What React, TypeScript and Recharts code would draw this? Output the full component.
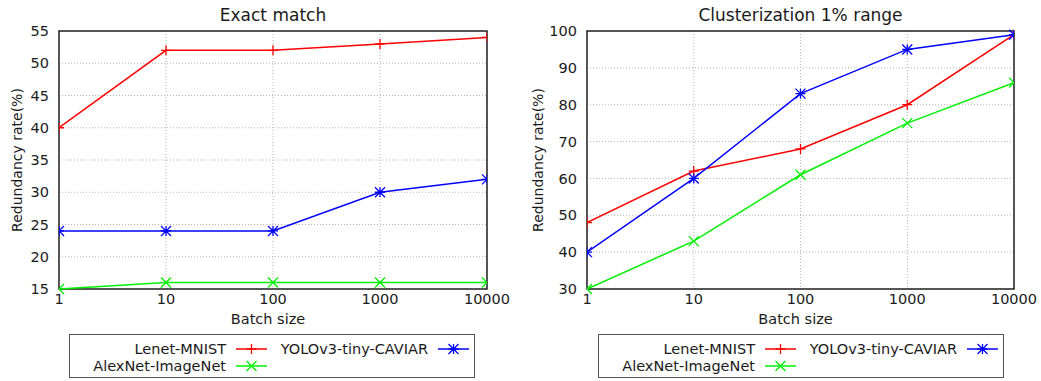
import { LineChart, Line, XAxis, YAxis, CartesianGrid, Legend, ReferenceArea } from "recharts";

// batch sizes (log x axis)
const batchSizes = [1, 10, 100, 1000, 10000];

// Exact match
const exactLenet = [40, 52, 52, 53, 54];
const exactYolo = [24, 24, 24, 30, 32];
const exactAlex = [15, 16, 16, 16, 16];
const exactTicks = [15, 20, 25, 30, 35, 40, 45, 50, 55];

// Clusterization 1% range
const clusterLenet = [48, 62, 68, 80, 99];
const clusterYolo = [40, 60, 83, 95, 99];
const clusterAlex = [30, 43, 61, 75, 86];
const clusterTicks = [30, 40, 50, 60, 70, 80, 90, 100];

const seriesKeys = ["lenet", "yolo", "alex"] as const;
const seriesNames = { lenet: "Lenet-MNIST", yolo: "YOLOv3-tiny-CAVIAR", alex: "AlexNet-ImageNet" };
const colors = { lenet: "#ff0000", yolo: "#0000ff", alex: "#00f000" };
const FONT = "'DejaVu Sans', sans-serif";
const INK = "#1a1a1a";

const buildRows = (lenet: number[], yolo: number[], alex: number[]) =>
  batchSizes.map((b, i) => ({ batch: b, lenet: lenet[i], yolo: yolo[i], alex: alex[i] }));

type MarkKind = "plus" | "cross" | "star";
const markOf: Record<string, MarkKind> = { lenet: "plus", yolo: "star", alex: "cross" };

const Mark = ({ cx, cy, kind, color }: { cx: number; cy: number; kind: MarkKind; color: string }) => {
  const s = 5;
  const plus = `M${cx - s},${cy}H${cx + s}M${cx},${cy - s}V${cy + s}`;
  const cross = `M${cx - s},${cy - s}L${cx + s},${cy + s}M${cx - s},${cy + s}L${cx + s},${cy - s}`;
  const d = kind === "plus" ? plus : kind === "cross" ? cross : plus + cross;
  return <path d={d} stroke={color} strokeWidth={1.3} fill="none" />;
};

const LegendBox = ({ payload }: any) => {
  const items = [...(payload || [])].sort(
    (a: any, b: any) => seriesKeys.indexOf(a.dataKey) - seriesKeys.indexOf(b.dataKey)
  );
  return (
    <svg width={406} height={44} style={{ display: "block" }}>
      <rect x={0.5} y={0.5} width={405} height={43} fill="#fff" stroke="#555" strokeWidth={1} />
      {items.map((it: any, i: number) => {
        const col = i % 2;
        const row = Math.floor(i / 2);
        const textEnd = 157 + col * 202;
        const y = 15 + row * 17;
        const key = String(it.dataKey);
        return (
          <g key={key}>
            <text x={textEnd} y={y} dy="0.35em" textAnchor="end" fontSize={14.5} fontFamily={FONT} fill={INK}>
              {it.value}
            </text>
            <line x1={textEnd + 10} x2={textEnd + 41} y1={y} y2={y} stroke={it.color} strokeWidth={1.5} />
            <Mark cx={textEnd + 25.5} cy={y} kind={markOf[key]} color={it.color} />
          </g>
        );
      })}
    </svg>
  );
};

interface PanelProps {
  title: string;
  rows: ReturnType<typeof buildRows>;
  yTicks: number[];
  width: number;
  yAxisWidth: number;
  rightMargin: number;
  labelOffset: number;
  legendLeft: number;
}

const Panel = ({ title, rows, yTicks, width, yAxisWidth, rightMargin, labelOffset, legendLeft }: PanelProps) => {
  const yMin = yTicks[0];
  const yMax = yTicks[yTicks.length - 1];
  const plotLeft = yAxisWidth;
  const plotRight = width - rightMargin;
  return (
    <div style={{ position: "relative", width, height: 381 }}>
      <div
        style={{
          position: "absolute",
          left: (plotLeft + plotRight) / 2 - 200,
          width: 400,
          top: 5,
          textAlign: "center",
          fontSize: 17,
          lineHeight: "20px",
          fontFamily: FONT,
          color: INK,
        }}
      >
        {title}
      </div>
      <LineChart width={width} height={381} data={rows} margin={{ top: 31, right: rightMargin, bottom: 51, left: 0 }}>
        <CartesianGrid stroke="#b4b4b4" strokeDasharray="1 2" />
        <XAxis
          dataKey="batch"
          type="number"
          scale="log"
          domain={[1, 10000]}
          ticks={batchSizes}
          allowDataOverflow
          height={41}
          tickLine={false}
          axisLine={false}
          tickSize={0}
          tickMargin={5}
          tick={{ fontSize: 14.5, fontFamily: FONT, fill: INK }}
          label={{ value: "Batch size", position: "insideBottom", offset: 6, dx: -5, style: { fontSize: 14.5, fontFamily: FONT, fill: INK } }}
        />
        <YAxis
          type="number"
          domain={[yMin, yMax]}
          ticks={yTicks}
          width={yAxisWidth}
          tickLine={false}
          axisLine={false}
          tickSize={0}
          tickMargin={10}
          tick={{ fontSize: 14.5, fontFamily: FONT, fill: INK }}
          label={{
            value: "Redundancy rate(%)",
            angle: -90,
            position: "insideLeft",
            offset: labelOffset,
            style: { textAnchor: "middle", fontSize: 14, fontFamily: FONT, fill: INK },
          }}
        />
        <ReferenceArea x1={1} x2={10000} y1={yMin} y2={yMax} fill="none" stroke="#222" strokeWidth={1.5} />
        {seriesKeys.map((k) => (
          <Line
            key={k}
            dataKey={k}
            name={seriesNames[k]}
            stroke={colors[k]}
            strokeWidth={1.5}
            type="linear"
            isAnimationActive={false}
            dot={(p: any) => <Mark key={`${k}-${p.index}`} cx={p.cx} cy={p.cy} kind={markOf[k]} color={colors[k]} />}
            activeDot={false}
          />
        ))}
        <Legend
          layout="vertical"
          align="center"
          verticalAlign="middle"
          content={<LegendBox />}
          wrapperStyle={{ left: legendLeft, top: 334, width: 406, height: 44 }}
        />
      </LineChart>
    </div>
  );
};

const App = () => (
  <div style={{ position: "absolute", left: 0, top: 0, width: 1041, height: 381, background: "#fff", display: "flex" }}>
    <Panel
      title="Exact match"
      rows={buildRows(exactLenet, exactYolo, exactAlex)}
      yTicks={exactTicks}
      width={520}
      yAxisWidth={59}
      rightMargin={33}
      labelOffset={17}
      legendLeft={69}
    />
    <Panel
      title="Clusterization 1% range"
      rows={buildRows(clusterLenet, clusterYolo, clusterAlex)}
      yTicks={clusterTicks}
      width={521}
      yAxisWidth={67}
      rightMargin={27}
      labelOffset={18}
      legendLeft={78}
    />
  </div>
);

export default App;
